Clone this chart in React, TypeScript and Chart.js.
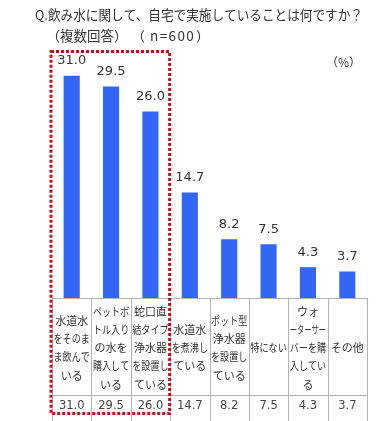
import React, { useEffect, useRef } from "react";
import { Chart, registerables } from "chart.js";

Chart.register(...registerables);

const titleLine1 = "Q.飲み水に関して、自宅で実施していることは何ですか？";
const titleLine2a = "（複数回答）";
const titleLine2b = "（";
const titleLine2c = "n=600";
const titleLine2d = "）";
const unitLabel = "（%）";

const categories: string[][] = [
  ["水道水", "をそのま", "ま飲んで", "いる"],
  ["ペットボ", "トル入り", "の水を", "購入して", "いる"],
  ["蛇口直", "結タイプ", "浄水器", "を設置し", "ている"],
  ["水道水", "を煮沸し", "ている"],
  ["ポット型", "浄水器", "を設置し", "ている"],
  ["特にない"],
  ["ウォ", "ーターサー", "バーを購", "入してい", "る"],
  ["その他"],
];
const values: number[] = [31.0, 29.5, 26.0, 14.7, 8.2, 7.5, 4.3, 3.7];
const highlightedCount = 3;

const JP = '"Noto Sans CJK JP", "Noto Sans", sans-serif';
const NUM = '"DejaVu Sans", Verdana, sans-serif';

const overlay = {
  id: "overlay",
  afterDraw(chart: any) {
    const ctx = chart.ctx as CanvasRenderingContext2D;
    const area = chart.chartArea;
    const n = values.length;
    const colW = (area.right - area.left) / n;
    const base = area.bottom;
    const H = chart.height;
    ctx.save();

    // titles
    ctx.fillStyle = "#333";
    ctx.textBaseline = "middle";
    ctx.textAlign = "left";
    ctx.font = `13.5px ${JP}`;
    ctx.fillText(titleLine1, 35, 15, 328);
    ctx.fillText(titleLine2a, 46.5, 36);
    ctx.fillText(titleLine2b, 131.5, 36);
    (ctx as any).letterSpacing = "1.4px";
    ctx.fillText(titleLine2c, 150, 36);
    (ctx as any).letterSpacing = "0px";
    ctx.fillText(titleLine2d, 196, 36);
    ctx.font = `12px ${JP}`;
    ctx.fillText(unitLabel, 326, 62);

    // bar value labels
    const meta = chart.getDatasetMeta(0);
    ctx.textAlign = "center";
    ctx.font = `13px ${NUM}`;
    ctx.fillStyle = "#333";
    meta.data.forEach((bar: any, i: number) => {
      ctx.fillText(values[i].toFixed(1), bar.x, bar.y - 15);
    });

    // table grid
    ctx.strokeStyle = "#b4b4b4";
    ctx.lineWidth = 1;
    ctx.beginPath();
    ctx.moveTo(area.left, base + 0.5);
    ctx.lineTo(area.right, base + 0.5);
    const rowY = base + 97;
    ctx.moveTo(area.left, rowY + 0.5);
    ctx.lineTo(area.right, rowY + 0.5);
    for (let i = 0; i <= n; i++) {
      const x = Math.round(area.left + i * colW) + 0.5;
      ctx.moveTo(x, base);
      ctx.lineTo(x, H);
    }
    ctx.stroke();

    // category labels
    ctx.fillStyle = "#333";
    ctx.font = `11px ${JP}`;
    const lh = 18.3;
    const labelCenter = base + 50;
    categories.forEach((lines, i) => {
      const cx = area.left + (i + 0.5) * colW;
      const start = labelCenter - ((lines.length - 1) * lh) / 2;
      lines.forEach((t, j) => {
        ctx.fillText(t, cx, start + j * lh, colW - 3);
      });
    });

    // table values
    ctx.font = `11.5px ${NUM}`;
    ctx.fillStyle = "#444";
    values.forEach((v, i) => {
      const cx = area.left + (i + 0.5) * colW;
      ctx.fillText(v.toFixed(1), cx, rowY + 11);
    });

    // red dotted highlight box
    ctx.strokeStyle = "#c4101c";
    ctx.lineWidth = 3;
    ctx.lineCap = "butt";
    ctx.setLineDash([3, 2]);
    const bl = area.left - 1;
    const br = area.left + highlightedCount * colW - 0.5;
    ctx.strokeRect(bl, 51.5, br - bl, 362);
    ctx.restore();
  },
};

export default function App() {
  const ref = useRef<HTMLCanvasElement>(null);
  useEffect(() => {
    document.body.style.margin = "0";
    const chart = new Chart(ref.current!, {
      type: "bar",
      data: {
        labels: categories.map((c) => c.join("")),
        datasets: [
          {
            data: values,
            backgroundColor: "#3366f5",
            barPercentage: 0.41,
            categoryPercentage: 1,
          },
        ],
      },
      options: {
        responsive: false,
        animation: false,
        devicePixelRatio: 1,
        layout: { padding: { left: 52, right: 17, top: 47, bottom: 123 } },
        plugins: {
          legend: { display: false },
          tooltip: { enabled: false },
          title: { display: false },
        },
        scales: {
          x: { display: false, offset: true },
          y: { display: false, min: 0, max: 35 },
        },
      },
      plugins: [overlay],
    });
    return () => chart.destroy();
  }, []);
  return <canvas ref={ref} width={384} height={421} style={{ display: "block" }} />;
}
